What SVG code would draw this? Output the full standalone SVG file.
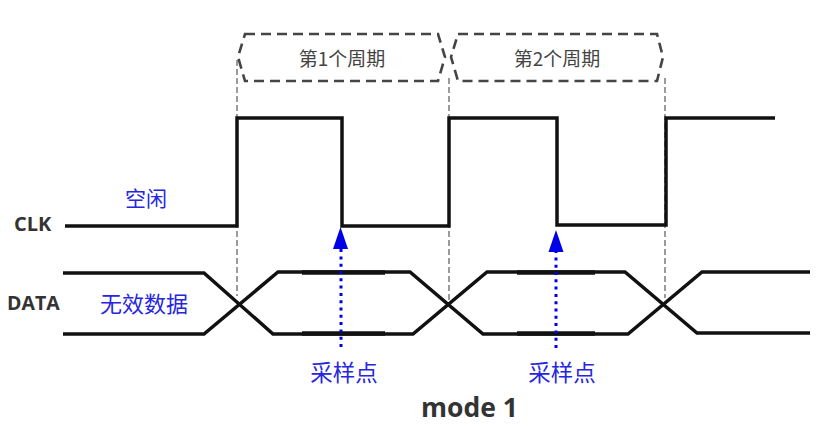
<svg xmlns="http://www.w3.org/2000/svg" width="827" height="429" viewBox="0 0 827 429">
<style>
.sig{fill:none;stroke:#111;stroke-width:3.5;stroke-linejoin:miter;stroke-linecap:butt}
.thick{fill:none;stroke:#111;stroke-width:4.3}
.guide{fill:none;stroke:#666;stroke-width:1.3;stroke-dasharray:6 3}
.hex{fill:none;stroke:#444;stroke-width:2.6;stroke-dasharray:10 6}
.dot{fill:none;stroke:#0000e6;stroke-width:3;stroke-dasharray:3 4.3}
.lbl{font-family:"Open Sans","Liberation Sans",sans-serif;font-weight:bold;fill:#333}
.cn{font-family:"Noto Sans CJK SC","Noto Sans",sans-serif}
.blue{fill:#2626e0}
.grey{fill:#444}
</style>
<g id="guides">
<line class="guide" x1="237" y1="60" x2="237" y2="296"/>
<line class="guide" x1="449" y1="78" x2="449" y2="300"/>
<line class="guide" x1="665" y1="78" x2="665" y2="298"/>
</g>
<g id="period1">
<path class="hex" d="M245,34 L438,34 L445,57 L438,81 L245,81 L238,57 Z"/>
<text class="cn grey" x="342" y="66" font-size="19" text-anchor="middle">第1个周期</text>
</g>
<g id="period2">
<path class="hex" d="M458,34 L657,34 L663,57 L657,81 L458,81 L451,57 Z"/>
<text class="cn grey" x="557" y="66" font-size="19" text-anchor="middle">第2个周期</text>
</g>
<g id="clk">
<text class="lbl" x="14" y="231" font-size="20">CLK</text>
<path class="sig" d="M65,226 L237,226 L237,118 L342,118 L342,226 L449,226 L449,118 L557,118 L557,225 L666,225 L666,118 L775,118"/>
<text class="cn blue" x="146" y="206" font-size="21" text-anchor="middle">空闲</text>
</g>
<g id="data">
<text class="lbl" x="7" y="310" font-size="19.5">DATA</text>
<path class="sig" d="M63,273 L204,273 L273,334 L413,334 L487,272 L625,272 L697,333 L810,333"/>
<path class="sig" d="M63,334 L204,334 L278,272 L410,272 L483,334 L628,334 L702,272 L810,272"/>
<line class="thick" x1="302" y1="272.5" x2="385" y2="272.5"/>
<line class="thick" x1="302" y1="333.5" x2="385" y2="333.5"/>
<line class="thick" x1="517" y1="272.5" x2="595" y2="272.5"/>
<line class="thick" x1="517" y1="333.5" x2="595" y2="333.5"/>
<text class="cn blue" x="144" y="312" font-size="22" text-anchor="middle">无效数据</text>
</g>
<g id="connectors">
<line class="dot" x1="341" y1="347" x2="341" y2="249"/>
<path d="M340.5,227 L348,249 L333,249 Z" fill="#0000e6"/>
<line class="dot" x1="556" y1="348" x2="556" y2="252"/>
<path d="M556,230 L563.5,252 L548.5,252 Z" fill="#0000e6"/>
</g>
<g id="sample1">
<text class="cn blue" x="344" y="381" font-size="22.5" text-anchor="middle">采样点</text>
</g>
<g id="sample2">
<text class="cn blue" x="562" y="381" font-size="22.5" text-anchor="middle">采样点</text>
</g>
<g id="title">
<text class="lbl" x="421" y="417" font-size="26.5">mode 1</text>
</g>
</svg>
